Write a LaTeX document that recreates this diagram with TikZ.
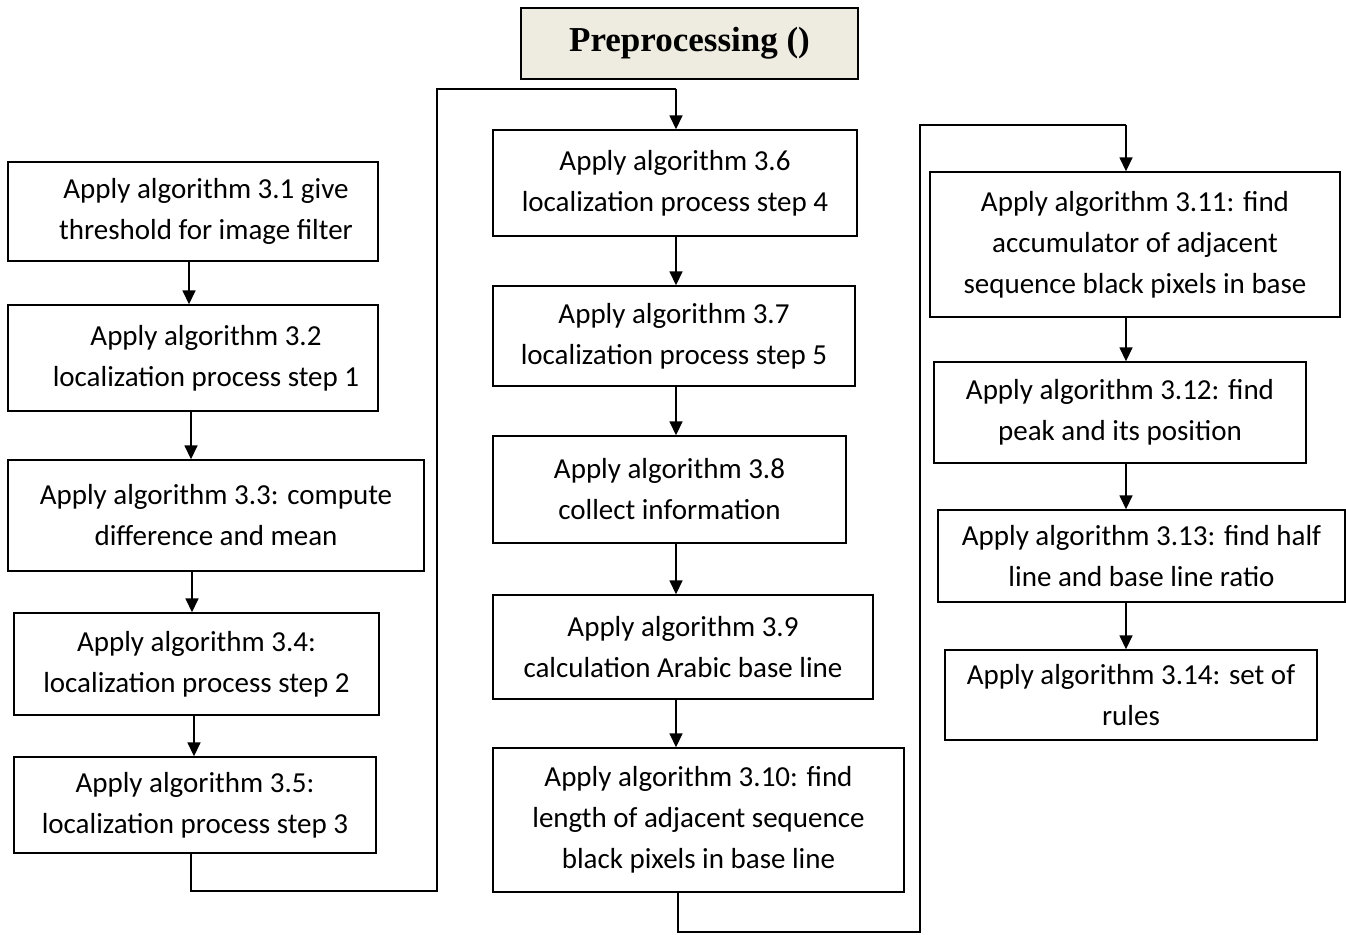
\documentclass[tikz,border=0pt]{standalone}
\usepackage{fontspec}
\setmainfont{Carlito}
\newfontfamily\titlefont{Liberation Serif}
\usetikzlibrary{arrows.meta}
\definecolor{titlefill}{HTML}{EEECE1}
\newcommand{\padL}{\hspace*{26pt}}
\begin{document}
\begin{tikzpicture}[x=1pt,y=-1pt,
  box/.style={draw=black,line width=1.4pt,rectangle,align=center,inner sep=0pt,
    font=\fontsize{29}{41}\selectfont},
  titlebox/.style={draw=black,line width=1.4pt,fill=titlefill,rectangle,align=center,
    font=\titlefont\bfseries\fontsize{35}{40}\selectfont},
  arr/.style={line width=1.6pt,-{Triangle[length=14pt,width=13pt]}},
  conn/.style={line width=1.6pt}]
\useasboundingbox (0,0) rectangle (1346,934);
\node[titlebox,minimum width=337,minimum height=71] (t) at (689.5,43.5) {Preprocessing ()};
% left column
\node[box,minimum width=370,minimum height=99] (b1) at (193,211.5) {\padL Apply algorithm 3.1 give\\\padL threshold for image filter};
\node[box,minimum width=370,minimum height=106] (b2) at (193,358) {\padL Apply algorithm 3.2\\\padL localization process step 1};
\node[box,minimum width=416,minimum height=111] (b3) at (216,515.5) {Apply algorithm 3.3: compute\\difference and mean};
\node[box,minimum width=365,minimum height=102] (b4) at (196.5,664) {Apply algorithm 3.4:\\localization process step 2};
\node[box,minimum width=362,minimum height=96] (b5) at (195,805) {Apply algorithm 3.5:\\localization process step 3};
% middle column
\node[box,minimum width=364,minimum height=106] (b6) at (675,183) {Apply algorithm 3.6\\localization process step 4};
\node[box,minimum width=362,minimum height=100] (b7) at (674,336) {Apply algorithm 3.7\\localization process step 5};
\node[box,minimum width=353,minimum height=107] (b8) at (669.5,489.5) {Apply algorithm 3.8\\collect information};
\node[box,minimum width=380,minimum height=104] (b9) at (683,647) {Apply algorithm 3.9\\calculation Arabic base line};
\node[box,minimum width=411,minimum height=144] (b10) at (698.5,820) {Apply algorithm 3.10: find\\length of adjacent sequence\\black pixels in base line};
% right column
\node[box,minimum width=410,minimum height=145] (b11) at (1135,244.5) {Apply algorithm 3.11: find\\accumulator of adjacent\\sequence black pixels in base};
\node[box,minimum width=372,minimum height=101] (b12) at (1120,412.5) {Apply algorithm 3.12: find\\peak and its position};
\node[box,minimum width=407,minimum height=92] (b13) at (1141.5,556) {Apply algorithm 3.13: find half\\line and base line ratio};
\node[box,minimum width=372,minimum height=90] (b14) at (1131,695) {Apply algorithm 3.14: set of\\rules};
% left arrows
\coordinate (l1) at (189,0);
\coordinate (l2) at (191,0);
\coordinate (l3) at (192,0);
\coordinate (l4) at (194,0);
\draw[arr] (b1.south -| l1) -- (b2.north -| l1);
\draw[arr] (b2.south -| l2) -- (b3.north -| l2);
\draw[arr] (b3.south -| l3) -- (b4.north -| l3);
\draw[arr] (b4.south -| l4) -- (b5.north -| l4);
% left to middle
\coordinate (c1) at (191,891);
\coordinate (c2) at (437,891);
\coordinate (c3) at (437,89);
\coordinate (c4) at (676,89);
\draw[conn] (b5.south -| c1) -- (c1) -- (c2) -- (c3) -- (c4);
\draw[arr] (c4) -- (b6.north -| c4);
% middle arrows
\coordinate (m) at (676,0);
\draw[arr] (b6.south -| m) -- (b7.north -| m);
\draw[arr] (b7.south -| m) -- (b8.north -| m);
\draw[arr] (b8.south -| m) -- (b9.north -| m);
\draw[arr] (b9.south -| m) -- (b10.north -| m);
% middle to right
\coordinate (d1) at (678,932);
\coordinate (d2) at (920,932);
\coordinate (d3) at (920,125);
\coordinate (d4) at (1126,125);
\draw[conn] (b10.south -| d1) -- (d1) -- (d2) -- (d3) -- (d4);
\draw[arr] (d4) -- (b11.north -| d4);
% right arrows
\coordinate (r) at (1126,0);
\draw[arr] (b11.south -| r) -- (b12.north -| r);
\draw[arr] (b12.south -| r) -- (b13.north -| r);
\draw[arr] (b13.south -| r) -- (b14.north -| r);
\end{tikzpicture}
\end{document}
